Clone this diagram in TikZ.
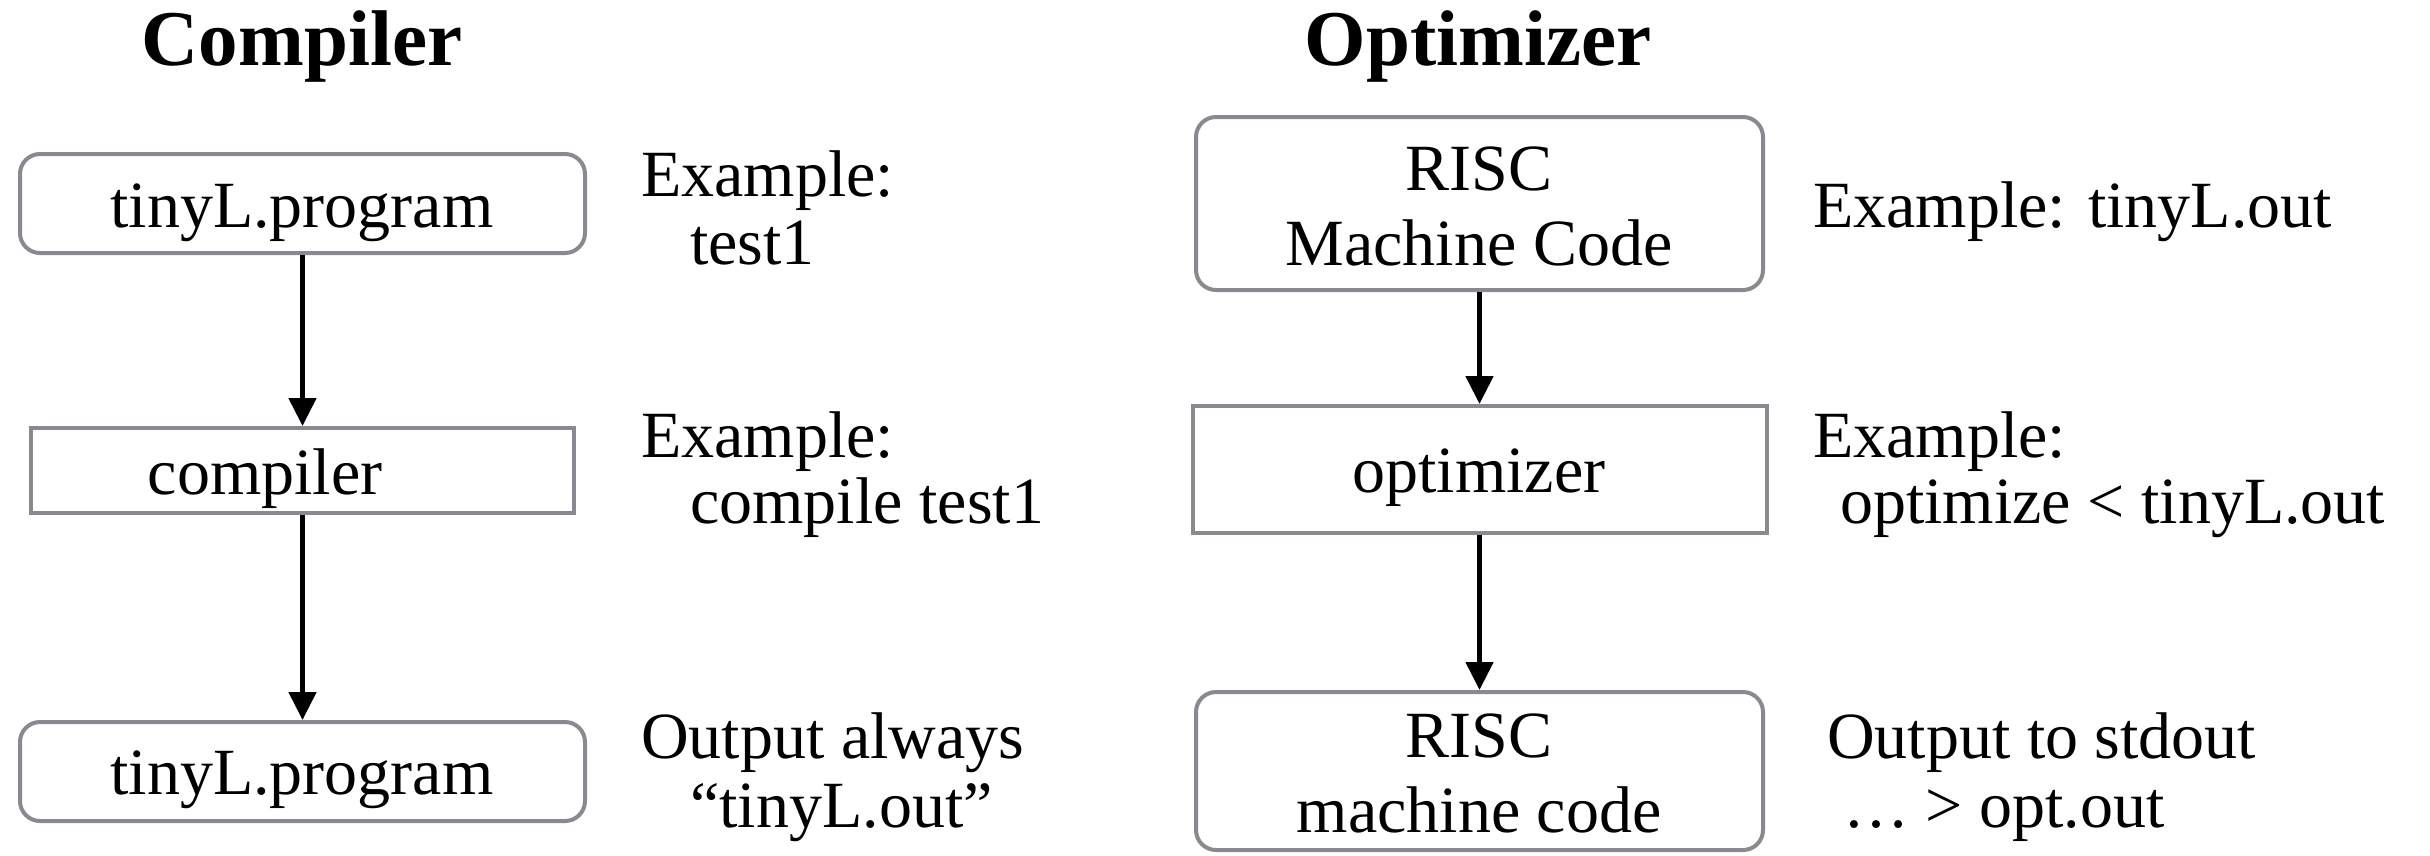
\documentclass[tikz,border=0pt]{standalone}
\usepackage{fontspec}
\setmainfont{Liberation Serif}
\usetikzlibrary{arrows.meta}
\definecolor{boxgray}{RGB}{135,138,142}
\begin{document}
\begin{tikzpicture}[x=1pt,y=-1pt,
  rbox/.style={draw=boxgray,line width=4pt,rounded corners=20pt,fill=white,inner sep=0pt},
  sbox/.style={draw=boxgray,line width=4pt,fill=white,inner sep=0pt},
  txt/.style={font=\fontsize{66}{74}\selectfont,anchor=base,inner sep=0pt},
  side/.style={font=\fontsize{66}{74}\selectfont,anchor=base west,inner sep=0pt},
  ttl/.style={font=\fontsize{79}{90}\selectfont\bfseries,anchor=base,inner sep=0pt},
  flow/.style={line width=5pt,-{Triangle[width=27pt,length=28pt]}}]
\useasboundingbox (0,0) rectangle (2430,855);
% titles
\node[ttl] (tc) at (302,65) {Compiler};
\node[ttl] (to) at (1478,65) {Optimizer};
% left column boxes
\node[rbox,minimum width=565pt,minimum height=99pt] (b1) at (302.5,203.5) {};
\node[sbox,minimum width=543pt,minimum height=85pt] (b2) at (302.5,470.5) {};
\node[rbox,minimum width=565pt,minimum height=99pt] (b3) at (302.5,771.5) {};
% right column boxes
\node[rbox,minimum width=567pt,minimum height=173pt] (b4) at (1479.5,203.5) {};
\node[sbox,minimum width=574pt,minimum height=127pt] (b5) at (1479.5,469.5) {};
\node[rbox,minimum width=567pt,minimum height=158pt] (b6) at (1479.5,771) {};
% box texts
\node[txt] (b1t) at (302,227) {tinyL.program};
\node[txt] (b2t) at (265,494) {compiler};
\node[txt] (b3t) at (302,794) {tinyL.program};
\node[txt] (b4a) at (1479,190) {RISC};
\node[txt] (b4b) at (1479,265) {Machine Code};
\node[txt] (b5t) at (1479,492) {optimizer};
\node[txt] (b6a) at (1479,757) {RISC};
\node[txt] (b6b) at (1479,832) {machine code};
% connectors
\draw[flow] (b1) -- (b2);
\draw[flow] (b2) -- (b3);
\draw[flow] (b4) -- (b5);
\draw[flow] (b5) -- (b6);
% side notes, compiler
\node[side] (n1a) at (641,196) {Example:};
\node[side] (n1b) at (690,264) {test1};
\node[side] (n2a) at (641,457) {Example:};
\node[side] (n2b) at (690,523) {compile test1};
\node[side] (n3a) at (641,758) {Output always};
\node[side] (n3b) at (690,827) {“tinyL.out”};
% side notes, optimizer
\node[side] (m1) at (1813,227) {Example: tinyL.out};
\node[side] (m2a) at (1813,457) {Example:};
\node[side] (m2b) at (1840,523) {optimize < tinyL.out};
\node[side] (m3a) at (1827,758) {Output to stdout};
\node[side] (m3b) at (1843,827) {… > opt.out};
\end{tikzpicture}
\end{document}
